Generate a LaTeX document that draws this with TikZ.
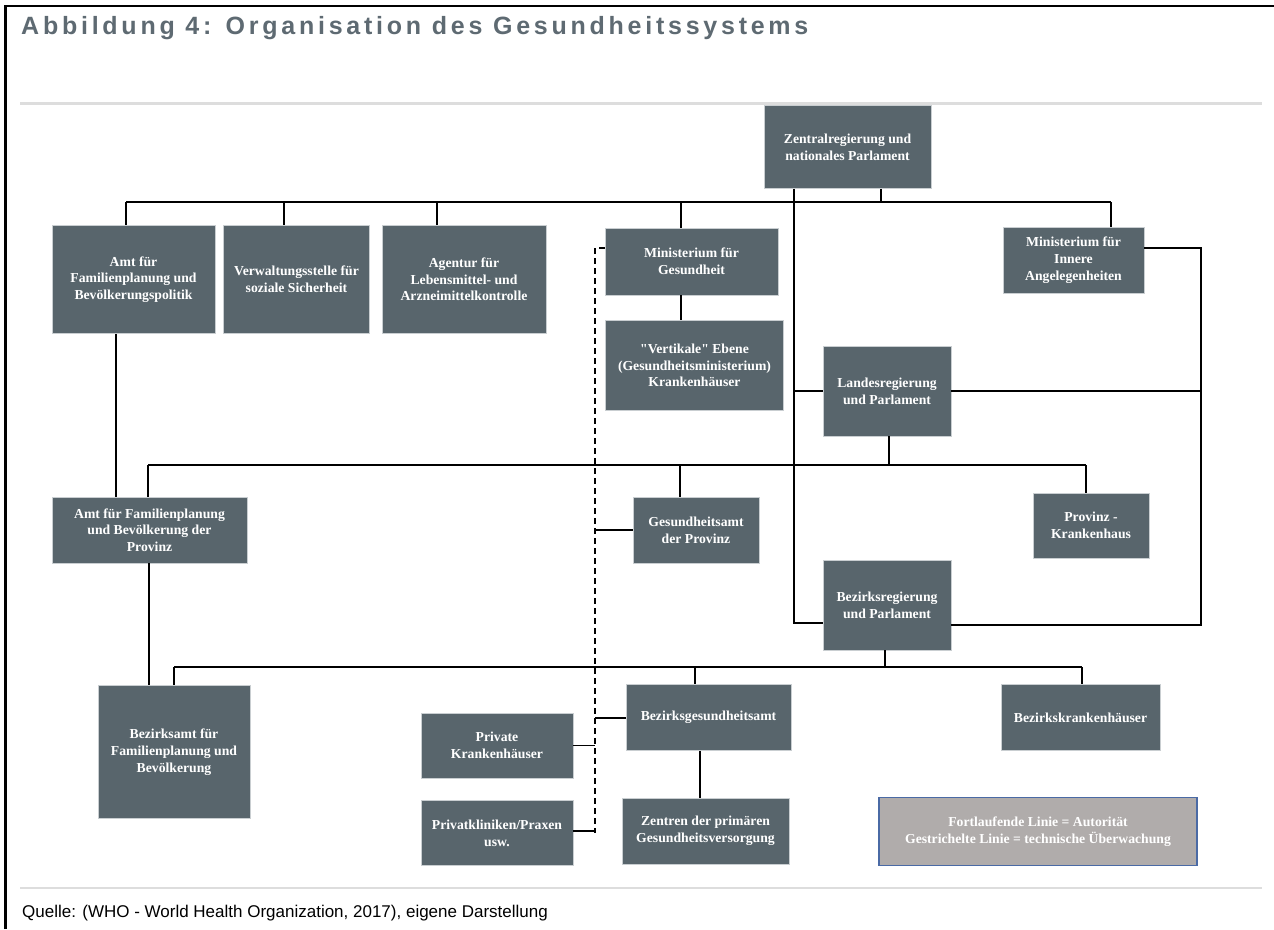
\documentclass[tikz,border=0pt]{standalone}
\usepackage{fontspec}
\setmainfont{Liberation Serif}
\newfontfamily\titlefont[LetterSpace=15]{Liberation Sans}
\newfontfamily\footfont{Liberation Sans}
\newcommand\sq{{\addfontfeatures{Ligatures=TeXOff}"}}
\definecolor{boxc}{HTML}{58656C}
\definecolor{boxline}{HTML}{C9CED1}
\definecolor{legfill}{HTML}{B0ACAB}
\definecolor{legline}{HTML}{4A6AA5}
\definecolor{sepgray}{HTML}{DDDDDD}
\definecolor{titlec}{HTML}{5E6A72}
\tikzset{
  box/.style={fill=boxc, draw=boxline, line width=0.6pt, text=white,
    font=\bfseries\fontsize{13.7}{16.7}\selectfont, align=center, inner sep=0pt},
  legbox/.style={box, fill=legfill, draw=legline, line width=1.2pt},
  conn/.style={line width=1.6pt, draw=black},
  techline/.style={line width=1.4pt, draw=black, dash pattern=on 6pt off 4pt},
  techbranch/.style={line width=1.4pt, draw=black},
}
\begin{document}
\begin{tikzpicture}[x=1pt,y=-1pt]
\useasboundingbox (0,0) rectangle (1274,929);
% frame
\draw[line width=2.4pt] (5.5,929) -- (5.5,6) -- (1274,6);
\draw[sepgray, line width=3pt] (20,103) -- (1262,103);
\draw[sepgray, line width=2pt] (20,888) -- (1262,888);
\node[anchor=base west, inner sep=0pt, text=titlec, font=\titlefont\bfseries\fontsize{25}{29}\selectfont] (title) at (21,34) {Abbildung 4: Organisation des Gesundheitssystems};
\node[anchor=base west, inner sep=0pt, font=\footfont\fontsize{17}{20}\selectfont] (quelle) at (22,917) {Quelle: (WHO - World Health Organization, 2017), eigene Darstellung};

% boxes
\node[box, minimum width=167pt, minimum height=83pt] (Z) at (847.5,147) {Zentralregierung und\\nationales Parlament};
\node[box, minimum width=163pt, minimum height=108pt] (A1) at (133.5,279.5) {Amt für\\Familienplanung und\\Bevölkerungspolitik};
\node[box, minimum width=146pt, minimum height=108pt] (A2) at (296.5,279.5) {Verwaltungsstelle für\\soziale Sicherheit};
\node[box, minimum width=164pt, minimum height=108pt] (A3) at (464,279.5) {Agentur für\\Lebensmittel- und\\Arzneimittelkontrolle};
\node[box, minimum width=173pt, minimum height=67pt] (MG) at (691.5,261.5) {Ministerium für\\Gesundheit};
\node[box, minimum width=178pt, minimum height=90pt] (VE) at (694.5,365.5) {\sq Vertikale\sq{} Ebene\\(Gesundheitsministerium)\\Krankenhäuser};
\node[box, minimum width=141pt, minimum height=66pt] (MI) at (1073.5,260) {Ministerium für\\Innere\\Angelegenheiten};
\node[box, minimum width=128pt, minimum height=90pt] (LR) at (887,391) {Landesregierung\\und Parlament};
\node[box, minimum width=195pt, minimum height=66pt] (AP) at (149.5,530) {Amt für Familienplanung\\und Bevölkerung der\\Provinz};
\node[box, minimum width=126pt, minimum height=66pt] (GP) at (696,530) {Gesundheitsamt\\der Provinz};
\node[box, minimum width=116pt, minimum height=65pt] (PK) at (1091,525.5) {Provinz -\\Krankenhaus};
\node[box, minimum width=128pt, minimum height=90pt] (BR) at (887,605) {Bezirksregierung\\und Parlament};
\node[box, minimum width=152pt, minimum height=133pt] (BA) at (174,752) {Bezirksamt für\\Familienplanung und\\Bevölkerung};
\node[box, minimum width=165pt, minimum height=66pt] (BG) at (708.5,717.5) {Bezirksgesundheitsamt};
\node[box, minimum width=159pt, minimum height=66pt] (BKH) at (1080.5,717.5) {Bezirkskrankenhäuser};
\node[box, minimum width=152pt, minimum height=65pt] (PKH) at (497,745.5) {Private\\Krankenhäuser};
\node[box, minimum width=152pt, minimum height=65pt] (PKL) at (497,833) {Privatkliniken/Praxen\\usw.};
\node[box, minimum width=167pt, minimum height=66pt] (ZP) at (705.5,831) {Zentren der primären\\Gesundheitsversorgung};
\node[legbox, minimum width=318pt, minimum height=68pt] (LEG) at (1038,831.5) {Fortlaufende Linie = Autorität\\Gestrichelte Linie = technische Überwachung};

% bus coordinates
\coordinate (b1l) at (126,202);
\coordinate (b1r) at (1111,202);
\coordinate (zdrop) at (881,202);
\coordinate (spine) at (794,623);
\coordinate (rtop) at (1201,248);
\coordinate (rbot) at (1201,625);
\coordinate (b2l) at (148,465);
\coordinate (b2r) at (1086,465);
\coordinate (lrdrop) at (889,465);
\coordinate (b3l) at (174,667);
\coordinate (b3r) at (1082,667);
\coordinate (brdrop) at (885,667);

% top level
\draw[conn] (Z.south -| zdrop) -- (zdrop);
\draw[conn] (b1l) -- (b1r);
\draw[conn] (b1l) -- (A1.north -| b1l);
\draw[conn] (284,202) -- (A2.north -| 284,0);
\draw[conn] (437,202) -- (A3.north -| 437,0);
\draw[conn] (681,202) -- (MG.north -| 681,0);
\draw[conn] (b1r) -- (MI.north -| b1r);
\draw[conn] (MG.south -| 681,0) -- (VE.north -| 681,0);
% long vertical from Zentral
\draw[conn] (Z.south -| spine) -- (spine) -- (BR.west |- spine);
\draw[conn] (LR.west -| spine) -- (LR.west);
% Innere right line
\draw[conn] (MI.east |- rtop) -- (rtop) -- (rbot) -- (BR.east |- rbot);
\draw[conn] (LR.east) -- (LR.east -| rtop);
% province level
\draw[conn] (LR.south -| lrdrop) -- (lrdrop);
\draw[conn] (b2l) -- (b2r);
\draw[conn] (b2l) -- (AP.north -| b2l);
\draw[conn] (680,465) -- (GP.north -| 680,0);
\draw[conn] (b2r) -- (PK.north -| b2r);
\draw[conn] (A1.south -| 116,0) -- (AP.north -| 116,0);
\draw[conn] (AP.south -| 149,0) -- (BA.north -| 149,0);
% district level
\draw[conn] (BR.south -| brdrop) -- (brdrop);
\draw[conn] (b3l) -- (b3r);
\draw[conn] (b3l) -- (BA.north -| b3l);
\draw[conn] (695,667) -- (BG.north -| 695,0);
\draw[conn] (b3r) -- (BKH.north -| b3r);
\draw[conn] (BG.south -| 700,0) -- (ZP.north -| 700,0);

% technical supervision (dashed)
\coordinate (dtop) at (595,248);
\coordinate (dbot) at (595,833);
\draw[techline] (MG.west |- dtop) -- (dtop) -- (dbot);
\draw[techbranch] (GP.west -| dtop) -- (GP.west);
\draw[techbranch] (595,718) -- (BG.west |- 0,718);
\draw[techbranch] (PKH.east) -- (PKH.east -| dtop);
\draw[techbranch] (PKL.east |- 0,831) -- (595,831);
\end{tikzpicture}
\end{document}
